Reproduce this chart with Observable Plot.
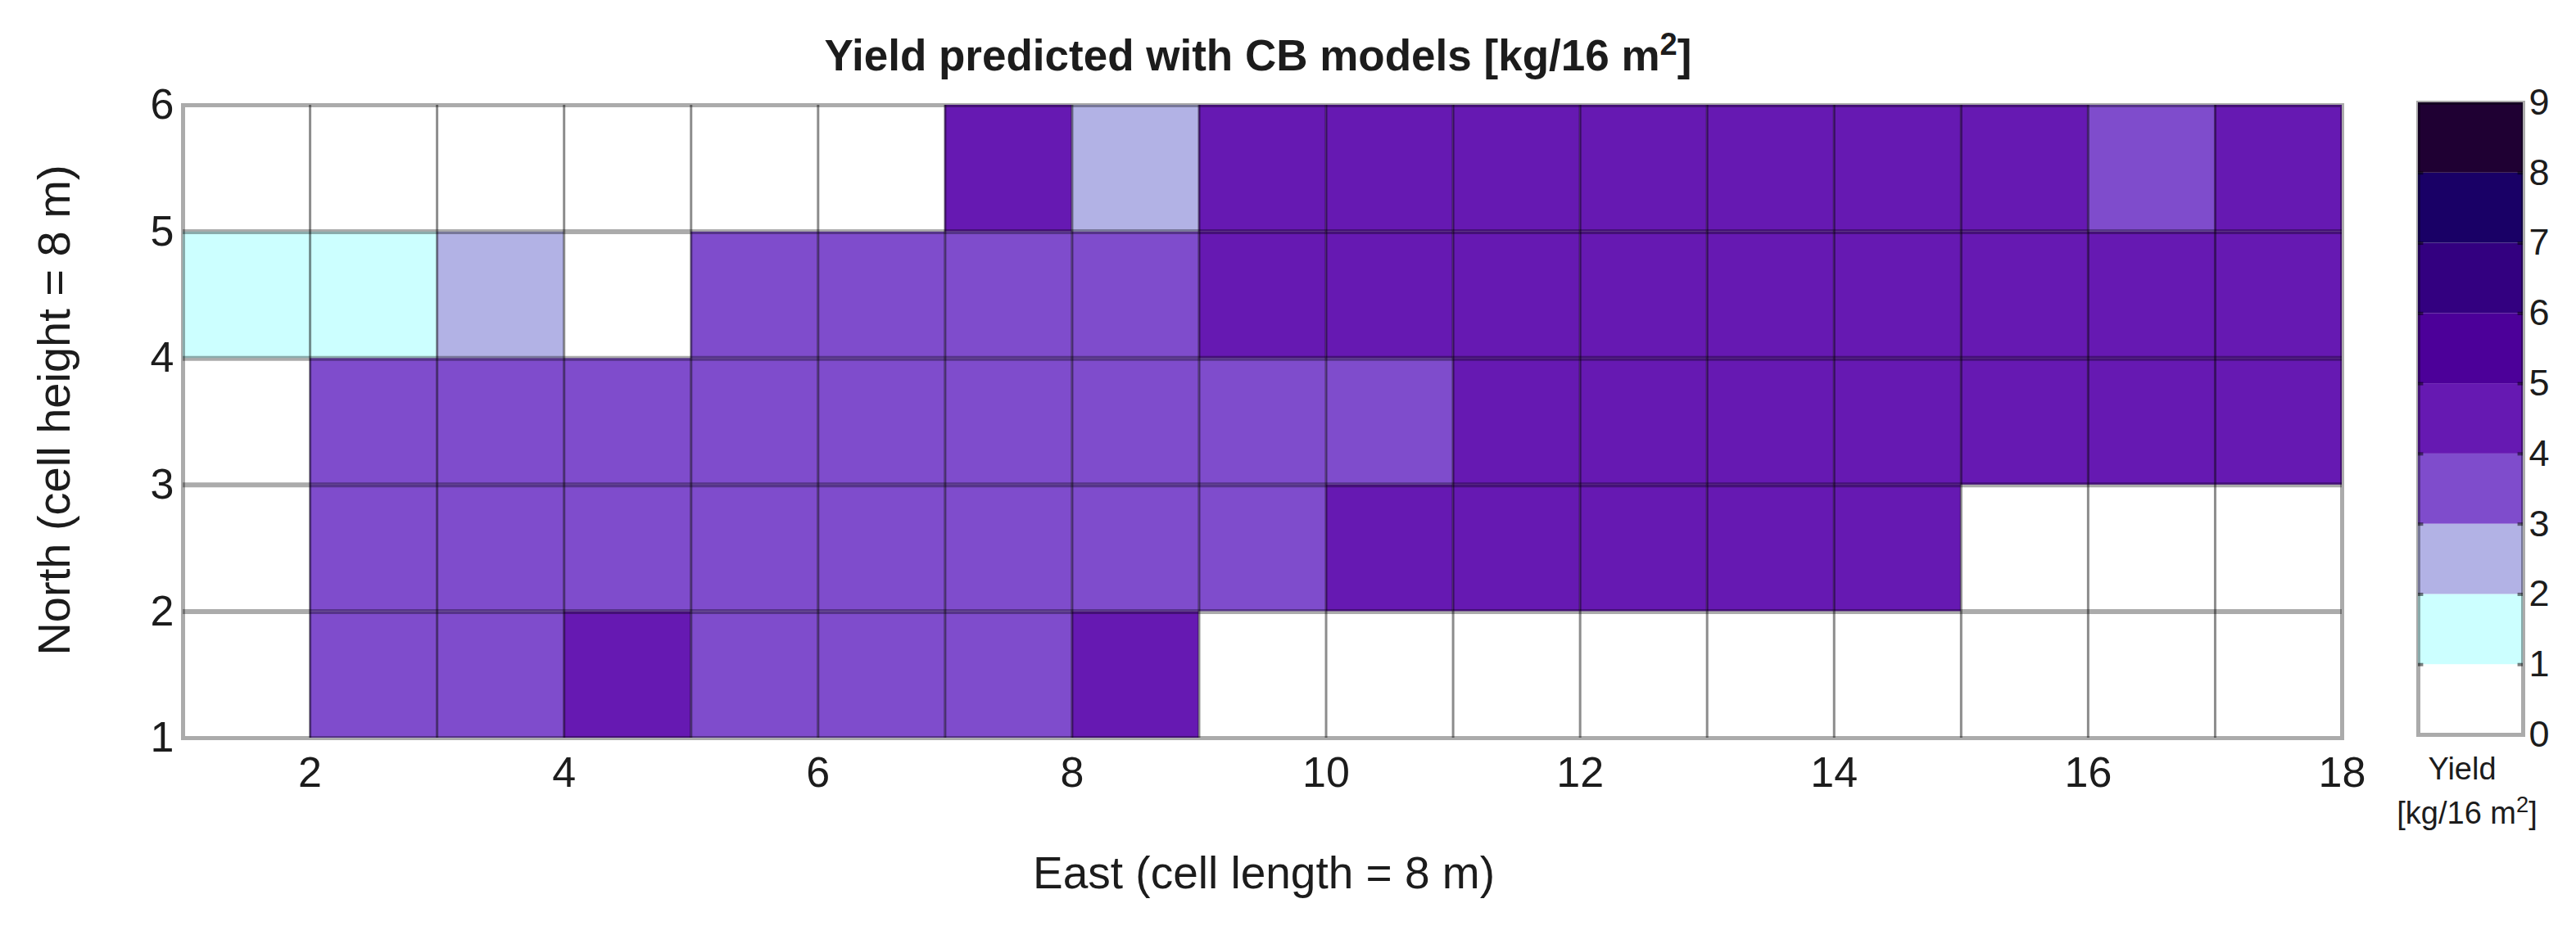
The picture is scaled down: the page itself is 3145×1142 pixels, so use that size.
<!DOCTYPE html>
<html>
<head>
<meta charset="utf-8">
<script src="https://cdn.jsdelivr.net/npm/d3@7"></script>
<script src="https://cdn.jsdelivr.net/npm/@observablehq/plot@0.6"></script>
<style>
html,body{margin:0;padding:0;background:#fff;overflow:hidden}
#chart{position:relative;width:3145px;height:1142px;font-family:"Liberation Sans",Arial,sans-serif;color:#1c1c1c}
#chart svg{position:absolute;top:0;background:transparent}
.t{position:absolute;white-space:nowrap;line-height:1}
.t sup{font-size:.72em;line-height:0;vertical-align:baseline;position:relative;top:-.5em}
</style>
</head>
<body>
<div id="chart"></div>
<script>
// Yield bin mid-values, one list per row, West to East (18 grid lines, 17 cells)
const row1to2 = [0.5,3.5,3.5,4.5,3.5,3.5,3.5,4.5,0.5,0.5,0.5,0.5,0.5,0.5,0.5,0.5,0.5];
const row2to3 = [0.5,3.5,3.5,3.5,3.5,3.5,3.5,3.5,3.5,4.5,4.5,4.5,4.5,4.5,0.5,0.5,0.5];
const row3to4 = [0.5,3.5,3.5,3.5,3.5,3.5,3.5,3.5,3.5,3.5,4.5,4.5,4.5,4.5,4.5,4.5,4.5];
const row4to5 = [1.5,1.5,2.5,0.5,3.5,3.5,3.5,3.5,4.5,4.5,4.5,4.5,4.5,4.5,4.5,4.5,4.5];
const row5to6 = [0.5,0.5,0.5,0.5,0.5,0.5,4.5,2.5,4.5,4.5,4.5,4.5,4.5,4.5,4.5,3.5,4.5];
const rows = [row1to2,row2to3,row3to4,row4to5,row5to6];

const eastLines = d3.range(1,19);
const northLines = [1,2,3,4,5,6];
const eastTicks = [2,4,6,8,10,12,14,16,18];
const northTicks = [1,2,3,4,5,6];

const binEdges = [1,2,3,4,5,6,7,8];
const binColors = ["#ffffff","#ccffff","#b2b2e5","#7f4ccc","#6619b2","#4c0099","#330080","#190066","#1f0033"];
const barBins = [0,1,2,3,4,5,6,7,8];
const barTicks = [0,1,2,3,4,5,6,7,8,9];

const cells = rows.flatMap((r,j)=>r.map((v,i)=>({e:eastLines[i],n:northLines[j],v})));
const colorScale = {type:"threshold",domain:binEdges,range:binColors};

const main = Plot.plot({
  width:2900,height:1142,
  marginLeft:223,marginRight:41,marginTop:128,marginBottom:241,
  x:{domain:[1,18]},
  y:{domain:[1,6]},
  color:colorScale,
  style:{fontFamily:"Liberation Sans, Arial, sans-serif",background:"transparent"},
  marks:[
    Plot.rect(cells,{x1:"e",x2:d=>d.e+1,y1:"n",y2:d=>d.n+1,fill:"v"}),
    Plot.ruleX(eastLines.slice(1,-1),{stroke:"#000",strokeOpacity:0.45,strokeWidth:3}),
    Plot.ruleY(northLines.slice(1,-1),{stroke:"#000",strokeOpacity:0.33,strokeWidth:6}),
    Plot.frame({stroke:"#000",strokeOpacity:0.33,strokeWidth:5}),
    Plot.axisX(eastTicks,{label:null,tickSize:0,tickPadding:23,fontSize:52,fill:"#1c1c1c",tickFormat:"d"}),
    Plot.axisY(northTicks,{label:null,tickSize:0,tickPadding:11,fontSize:52,fill:"#1c1c1c",tickFormat:"d"})
  ]
});
main.style.left="0px";

const bar = Plot.plot({
  width:245,height:1142,
  marginLeft:52,marginRight:65,marginTop:125,marginBottom:245,
  x:{domain:[0,1],axis:null},
  y:{domain:[0,9]},
  color:colorScale,
  style:{fontFamily:"Liberation Sans, Arial, sans-serif",background:"transparent"},
  marks:[
    Plot.rect(barBins,{x1:0,x2:1,y1:d=>d,y2:d=>d+1,fill:d=>d+0.5}),
    Plot.ruleY(barTicks.slice(1,-1),{x1:0,x2:0.05,stroke:"#000",strokeOpacity:0.5,strokeWidth:4}),
    Plot.ruleY(barTicks.slice(1,-1),{x1:0.95,x2:1,stroke:"#000",strokeOpacity:0.5,strokeWidth:4}),
    Plot.frame({stroke:"#000",strokeOpacity:0.33,strokeWidth:5}),
    Plot.axisY(barTicks,{anchor:"right",label:null,tickSize:0,tickPadding:7,fontSize:45,fill:"#1c1c1c",tickFormat:"d"})
  ]
});
bar.style.left="2900px";

const root = document.getElementById("chart");
root.append(main,bar);

function addText(html,x,baseY,size,opts={}){
  const d=document.createElement("div");
  d.className="t";
  d.innerHTML=html;
  d.style.fontSize=size+"px";
  if(opts.bold)d.style.fontWeight="bold";
  d.style.left=x+"px";
  d.style.top=baseY+"px";
  d.style.transform=opts.transform||"translate(-50%,-100%)";
  root.append(d);
  return d;
}
addText('Yield predicted with CB models [kg/16 m<sup>2</sup>]',1536,94,53,{bold:true});
addText('East (cell length = 8 m)',1543,1094,55);
addText('North (cell height = 8 m)',66,501,56,{transform:"translate(-50%,-50%) rotate(-90deg)"});
addText('Yield',3006,958,38);
addText('[kg/16 m<sup>2</sup>]',3012,1012,38);
</script>
</body>
</html>
